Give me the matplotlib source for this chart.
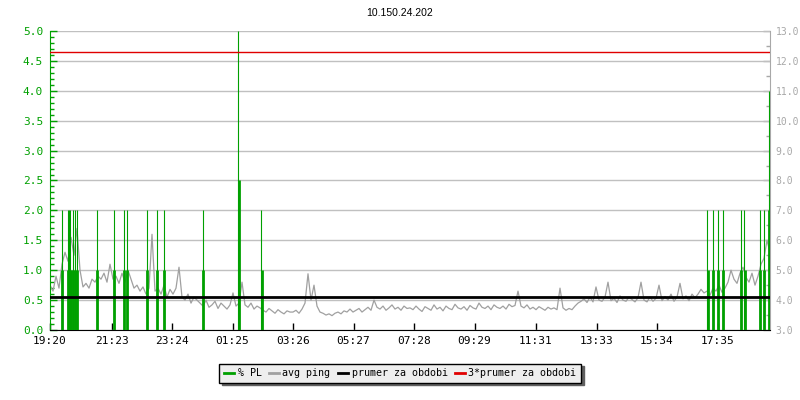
import matplotlib
matplotlib.use("Agg")
import matplotlib.pyplot as plt
import numpy as np
from matplotlib.lines import Line2D
from matplotlib.ticker import FormatStrFormatter, MultipleLocator

# --- data ----------------------------------------------------------------
title = "10.150.24.202"
span_minutes = 1440                      # 19:20 -> 19:20 next day
tick_minutes = [0, 123, 244, 365, 486, 607, 728, 849, 971, 1093, 1214, 1335]
tick_labels = ["19:20", "21:23", "23:24", "01:25", "03:26", "05:27",
               "07:28", "09:29", "11:31", "13:33", "15:34", "17:35"]

# avg ping (ms, right axis), one sample every ~6 min
ping_ms = [
    4.5, 4.3, 4.8, 4.4, 5.2, 5.6, 5.3, 6.1, 5.5, 6.4, 5.0,
    4.44, 4.56, 4.4, 4.7, 4.6, 4.8,
    4.7, 4.9, 4.6, 5.2, 4.7, 4.8, 4.56, 4.9, 4.6, 5.0, 4.7,
    4.4, 4.5, 4.3, 4.44, 4.2, 4.4, 6.2,
    4.3, 4.4, 4.2, 4.5, 4.1, 4.36, 4.2, 4.4, 5.1,
    4.1, 4.0, 4.2, 3.9, 4.1, 4.0,
    3.9, 3.8, 4.0, 3.76, 3.84, 3.96, 3.72, 3.9, 3.8, 3.7, 3.84, 4.24,
    3.8, 3.9, 4.6, 3.84, 3.76, 3.9, 3.7, 3.8, 3.74,
    3.66, 3.6, 3.72, 3.64, 3.56, 3.68, 3.6, 3.54, 3.64, 3.6,
    3.6, 3.66, 3.56, 3.7, 3.9, 4.88, 4.0, 4.5,
    3.8, 3.6, 3.56, 3.5, 3.54, 3.48, 3.56,
    3.6, 3.54, 3.64, 3.6, 3.7, 3.6, 3.66, 3.72, 3.6, 3.68, 3.76, 3.66, 4.0,
    3.76, 3.7, 3.8, 3.66, 3.74, 3.84, 3.7, 3.76, 3.66, 3.8, 3.72,
    3.74, 3.68, 3.8, 3.7, 3.62, 3.78, 3.72, 3.66, 3.84, 3.7, 3.76, 3.64,
    3.8, 3.72, 3.68, 3.86, 3.74, 3.7, 3.78, 3.66, 3.82, 3.74, 3.7, 3.9,
    3.76, 3.72, 3.8, 3.68, 3.84, 3.76, 3.72, 3.8, 3.7, 3.86, 3.78, 3.82, 4.3,
    3.8, 3.74, 3.84, 3.7, 3.76, 3.68, 3.78, 3.72, 3.66, 3.76, 3.7, 3.74, 3.68, 4.4,
    3.74, 3.66, 3.72, 3.68, 3.8,
    3.9, 3.96, 4.04, 3.92, 4.1, 3.94, 4.44, 4.0, 3.96, 4.1, 4.6,
    3.98, 4.06, 3.92, 4.14, 4.0, 3.96, 4.1, 4.02, 3.94, 4.08, 4.6,
    4.0, 3.94, 4.1, 3.96, 4.06, 4.5, 3.98, 4.12, 4.0,
    4.2, 3.96, 4.1, 4.56, 4.04, 4.14, 3.98, 4.2, 4.08,
    4.2, 4.36, 4.24, 4.3, 4.16, 4.4, 4.3, 4.5, 4.26, 4.4,
    4.6, 5.0, 4.7, 4.56, 4.9, 5.1, 4.76, 4.6, 4.9, 4.5,
    4.8, 5.2, 5.4, 6.0, 5.6,
]

# packet loss spikes (% PL, left axis)
pl_minutes = [23, 35, 38, 40, 45, 49, 53, 93, 127, 147, 153, 193, 213, 227,
              305, 376, 422, 1314, 1325, 1335, 1345, 1381, 1388, 1419, 1427, 1437]
pl_values = [2.0, 2.0, 2.0, 2.0, 2.0, 2.0, 2.0, 2.0, 2.0, 2.0, 2.0, 2.0, 2.0, 2.0,
             2.0, 5.0, 2.0, 2.0, 2.0, 2.0, 2.0, 2.0, 2.0, 2.0, 2.0, 4.0]

mean_ms = 4.1
legend_labels = ["% PL", "avg ping", "prumer za obdobi", "3*prumer za obdobi"]

# --- style ---------------------------------------------------------------
GREEN, GRAY, LGRAY, RED = "#00a000", "#a0a0a0", "#a8a8a8", "#e00000"
MONO = "DejaVu Sans Mono"
plt.rcParams["font.family"] = MONO


def to_pl(ms):
    return (np.asarray(ms) - 3.0) / 2.0


def to_ms(pl):
    return np.asarray(pl) * 2.0 + 3.0


fig = plt.figure(figsize=(8, 4), dpi=100)
ax = fig.add_axes([50 / 800, 70 / 400, 720 / 800, 299 / 400])

t = np.linspace(0, span_minutes, len(ping_ms))
ax.plot(t, to_pl(ping_ms), color=GRAY, lw=0.9, zorder=2)
ax.vlines(pl_minutes, 0, pl_values, color=GREEN, lw=0.8, zorder=3)
ax.vlines(np.array(pl_minutes) + 1, 0, np.array(pl_values) / 2, color=GREEN, lw=2.0, zorder=3)
ax.axhline(to_pl(mean_ms), color="black", lw=2.0, zorder=4)
ax.axhline(to_pl(3 * mean_ms), color=RED, lw=1.0, zorder=4)

ax.set_xlim(0, span_minutes)
ax.set_ylim(0, 5)
ax.yaxis.set_major_locator(MultipleLocator(0.5))
ax.yaxis.set_minor_locator(MultipleLocator(0.1))
ax.yaxis.set_major_formatter(FormatStrFormatter("%.1f"))
ax.grid(axis="y", color="#c0c0c0", lw=1.0, zorder=1)
ax.set_xticks(tick_minutes, tick_labels)
ax.tick_params(axis="x", direction="in", length=5, width=1, colors="black", labelsize=8, pad=4)
ax.tick_params(axis="y", which="major", direction="in", length=5, width=1, colors=GREEN,
               labelsize=8, pad=5)
ax.tick_params(axis="y", which="minor", direction="in", length=3, width=1, colors=GREEN)
for s in ("top", "right"):
    ax.spines[s].set_visible(False)
ax.spines["left"].set_color(GREEN)
ax.spines["bottom"].set_color("black")

sec = ax.secondary_yaxis("right", functions=(to_ms, to_pl))
sec.yaxis.set_major_locator(MultipleLocator(1.0))
sec.yaxis.set_minor_locator(MultipleLocator(0.5))
sec.yaxis.set_major_formatter(FormatStrFormatter("%.1f"))
sec.tick_params(axis="y", which="major", direction="in", length=5, width=1, colors=LGRAY,
                labelsize=7, pad=4)
sec.tick_params(axis="y", which="minor", direction="in", length=3, width=1, colors=LGRAY)
sec.spines["right"].set_color(LGRAY)

fig.text(0.5, 1 - 13 / 400, title, ha="center", va="center", fontsize=7.5,
         family="Liberation Sans")

handles = [Line2D([], [], color=c, lw=2) for c in (GREEN, GRAY, "black", RED)]
leg = fig.legend(handles, legend_labels, loc="center", bbox_to_anchor=(0.5, 1 - 373 / 400),
                 ncol=4, frameon=True, fancybox=False,
                 shadow={"color": "#606060", "alpha": 1.0},
                 handlelength=1.0, handletextpad=0.4, columnspacing=0.7,
                 borderpad=0.45, prop={"family": MONO, "size": 7.2})
leg.get_frame().set_facecolor("#eeeeee")
leg.get_frame().set_edgecolor("black")
leg.get_frame().set_linewidth(1.0)

fig.savefig("out.png", dpi=100)
